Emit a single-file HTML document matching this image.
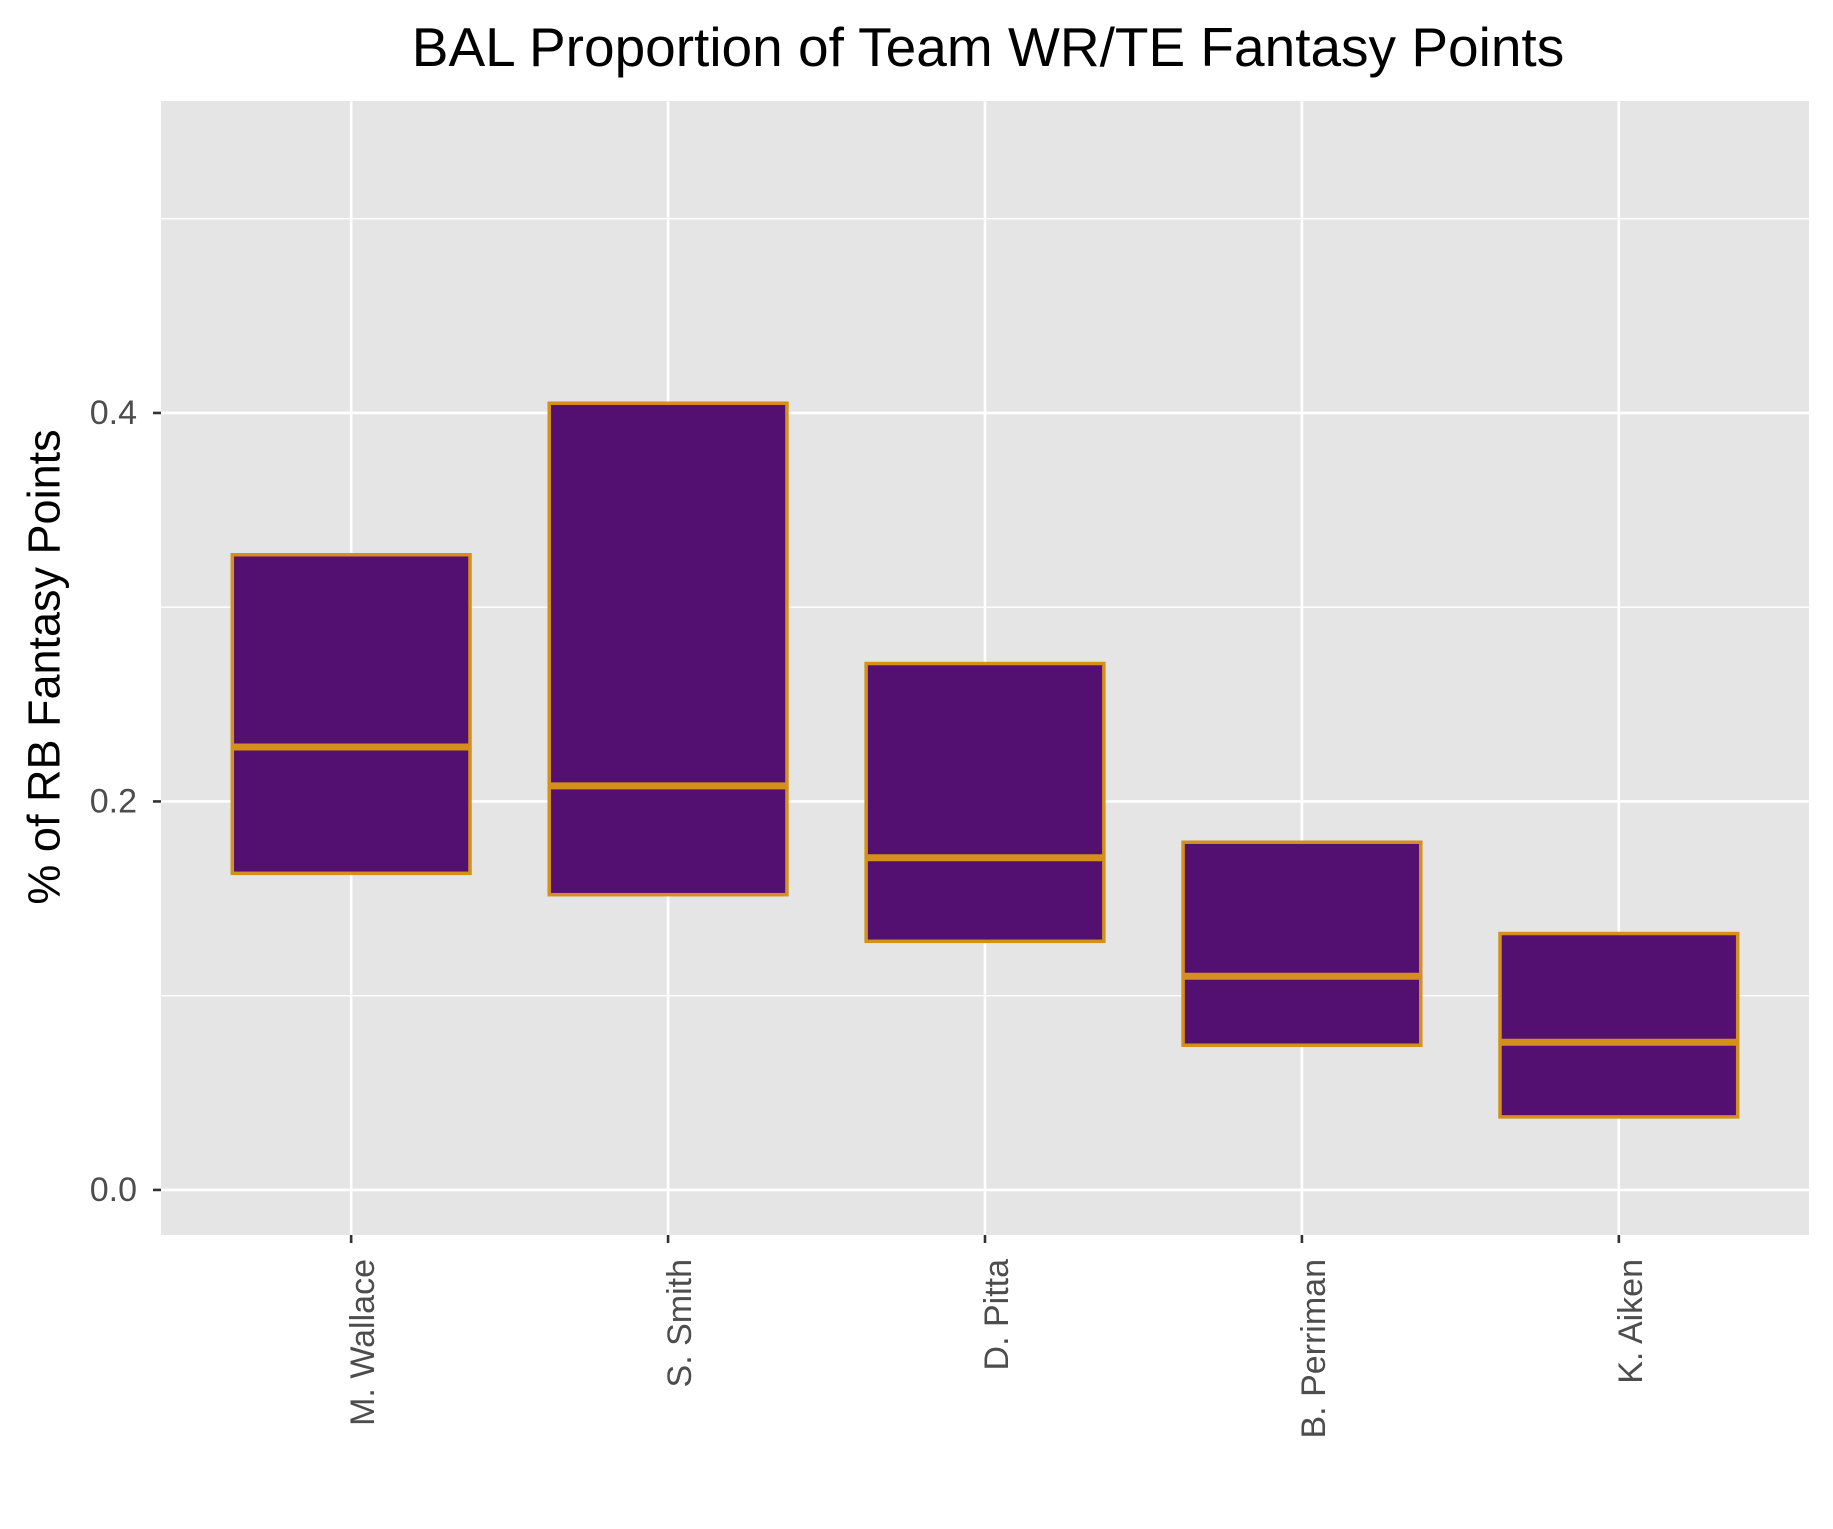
<!DOCTYPE html>
<html><head><meta charset="utf-8"><style>
html,body{margin:0;padding:0;background:#fff;}
svg{display:block;font-family:"Liberation Sans",Arial,sans-serif;}
</style></head><body>
<svg id="chart" width="1833" height="1529">
<text x="988" y="66" text-anchor="middle" font-size="55" fill="#000">BAL Proportion of Team WR/TE Fantasy Points</text>
<text transform="translate(44,667) rotate(-90)" text-anchor="middle" dominant-baseline="central" font-size="45" fill="#000">% of RB Fantasy Points</text>
<g id="plot"></g>
</svg>
<script>
const categories = ["M. Wallace","S. Smith","D. Pitta","B. Perriman","K. Aiken"];
const lowerValues = [0.163,0.152,0.128,0.0745,0.0376];
const medianValues = [0.228,0.208,0.171,0.110,0.076];
const upperValues = [0.327,0.405,0.271,0.179,0.132];
const majorTicks = [0,0.2,0.4];
const majorTickLabels = ["0.0","0.2","0.4"];
const minorTicks = [0.1,0.3,0.5];

const NS="http://www.w3.org/2000/svg";
const L=161,R=1809,T=101,B=1235;
const yMin=-0.0232,yMax=0.5606;
const y=v=>B-(v-yMin)/(yMax-yMin)*(B-T);
const step=(R-L)/(categories.length+0.2);
const x=i=>L+step*(0.6+i);
const g=document.getElementById('plot');
function mk(tag,attrs){const e=document.createElementNS(NS,tag);for(const k in attrs)e.setAttribute(k,attrs[k]);g.appendChild(e);return e;}

let bg=mk('rect',{x:L,y:T,width:R-L,height:B-T,fill:'#e5e5e5'});


minorTicks.forEach(v=>{
  let l=mk('line',{x1:L,x2:R,y1:y(v),y2:y(v),stroke:'#fff','stroke-width':1.3});
  
  
});
majorTicks.forEach((v,i)=>{
  let l=mk('line',{x1:L,x2:R,y1:y(v),y2:y(v),stroke:'#fff','stroke-width':2.6});
  
  
  let t=mk('line',{x1:L-8,x2:L,y1:y(v),y2:y(v),stroke:'#333','stroke-width':2.6});
  
  
  let tx=mk('text',{x:L-24,y:y(v),'text-anchor':'end','dominant-baseline':'central','font-size':34,fill:'#4d4d4d'});
  tx.textContent=majorTickLabels[i];
  
  
});
categories.forEach((c,i)=>{
  let l=mk('line',{x1:x(i),x2:x(i),y1:T,y2:B,stroke:'#fff','stroke-width':2.6});
  
  
  let t=mk('line',{x1:x(i),x2:x(i),y1:B,y2:B+8,stroke:'#333','stroke-width':2.6});
  
  
  let tx=mk('text',{transform:`translate(${x(i)+12},${B+24}) rotate(-90)`,'text-anchor':'end','dominant-baseline':'central','font-size':34,fill:'#4d4d4d'});
  tx.textContent=c;
  
  
});
categories.forEach((c,i)=>{
  const w=step*0.75;
  let b=mk('rect',{x:x(i)-w/2,y:y(upperValues[i]),width:w,height:y(lowerValues[i])-y(upperValues[i]),fill:'#541070',stroke:'#d4901a','stroke-width':3.5});
  
  
  let m=mk('line',{x1:x(i)-w/2,x2:x(i)+w/2,y1:y(medianValues[i]),y2:y(medianValues[i]),stroke:'#d4901a','stroke-width':7});
  
  
});
</script>
</body></html>
